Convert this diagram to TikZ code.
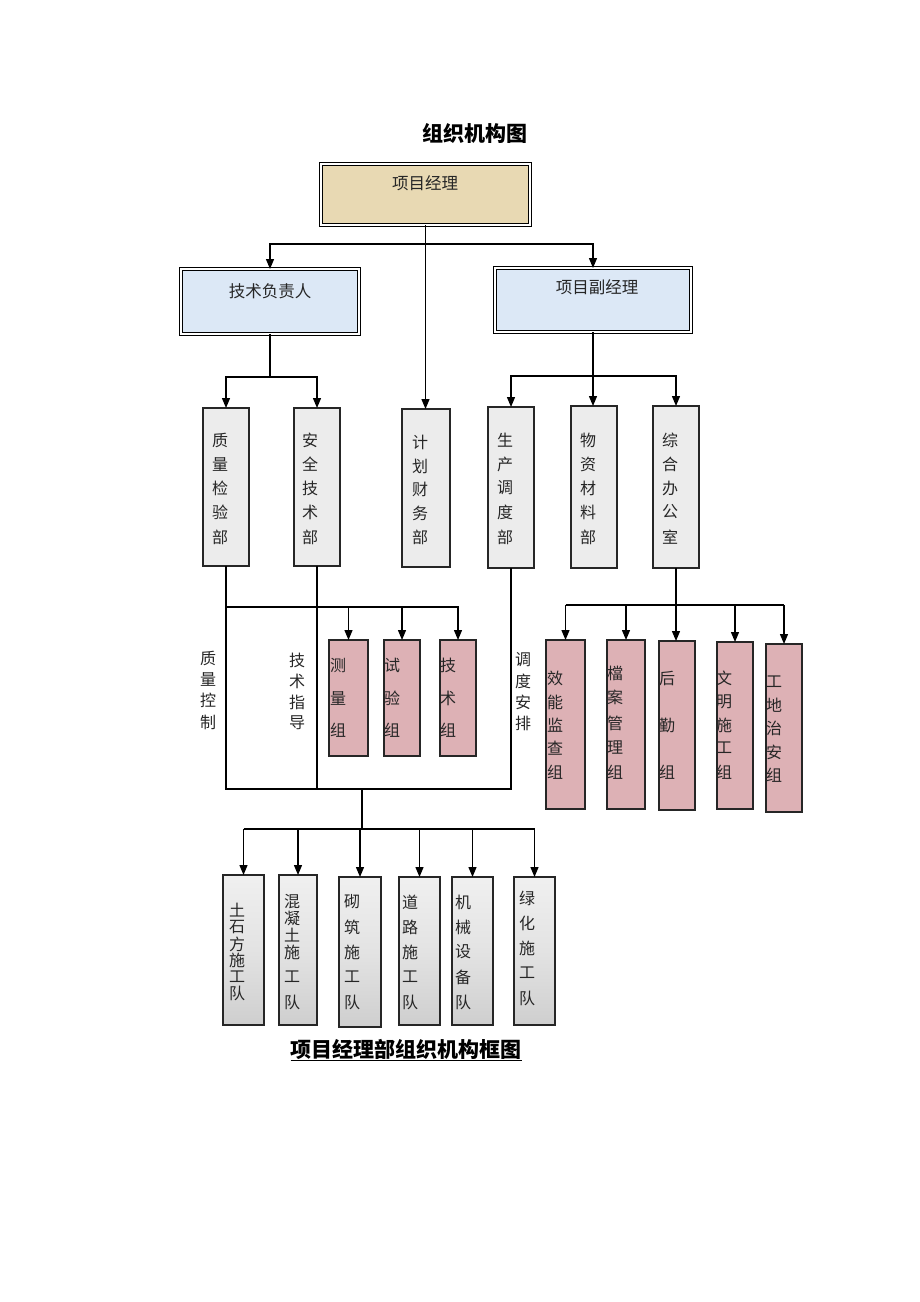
\documentclass[tikz,border=0pt]{standalone}
\usepackage{fontspec}
\setmainfont{Noto Sans CJK SC}
\usetikzlibrary{arrows.meta}
\definecolor{cTan}{HTML}{E8D9B3}
\definecolor{cBlue}{HTML}{DCE8F6}
\definecolor{cGray}{HTML}{ECECEC}
\definecolor{cPink}{HTML}{DDB1B5}
\definecolor{cTxt}{HTML}{262626}
\tikzset{
  ln/.style={line width=1.3pt, draw=black},
  arr/.style={ln, -{Triangle[length=10pt,width=8pt]}},
  bxa/.style={draw=black!85, line width=1.4pt, inner sep=0pt, outer sep=0pt, anchor=north west},
  dbx/.style={bxa, draw=black, double=white, double distance=1.3pt, line width=1.3pt},
  topbox/.style={dbx, fill=cTan},
  bluebox/.style={dbx, fill=cBlue},
  graybox/.style={bxa, fill=cGray},
  pinkbox/.style={bxa, fill=cPink},
  teambox/.style={bxa, top color=gray!12, bottom color=gray!38, middle color=gray!22},
  ch/.style={inner sep=0pt, font=\fontsize{16}{16}\selectfont, text=cTxt},
  hd/.style={inner sep=0pt, font=\fontsize{16.5}{16.5}\selectfont, text=cTxt},
  ttl/.style={inner sep=0pt, font=\bfseries\fontsize{21}{21}\selectfont, text=black},
}
\newcommand{\rb}[6]{\node[#1, minimum width=#5pt-#3pt, minimum height=#6pt-#4pt] (#2) at (#3,#4) {};}
\newcommand{\vcol}[4]{\foreach \c/\yy [count=\i] in {#4} {\node[#2] (#1-\i) at (#3,\yy) {\c};}}
\begin{document}
\begin{tikzpicture}[x=1pt,y=-1pt]
\useasboundingbox (0,0) rectangle (920,1302);
\fill[white] (0,0) rectangle (920,1302);

% titles
\node[ttl] (title) at (475,133) {组织机构图};
\node[ttl] (subtitle) at (406,1050) {\underline{项目经理部组织机构框图}};

% top level
\rb{topbox}{pm}{321}{164}{530}{225}
\node[hd] (pm-t) at (425,183) {项目经理};
\rb{bluebox}{tech}{181}{269}{359}{334}
\node[hd] (tech-t) at (270,291) {技术负责人};
\rb{bluebox}{vpm}{495}{268}{691}{332}
\node[hd] (vpm-t) at (597,287) {项目副经理};

% departments
\rb{graybox}{qc}{203}{408}{249}{566}
\rb{graybox}{sa}{294}{408}{340}{566}
\rb{graybox}{cw}{402}{409}{450}{567}
\rb{graybox}{sc}{488}{407}{534}{568}
\rb{graybox}{wz}{571}{406}{617}{568}
\rb{graybox}{zh}{653}{406}{699}{568}
\vcol{qct}{ch}{220}{质/440,量/464,检/488,验/512,部/537}
\vcol{sat}{ch}{310}{安/440,全/464,技/488,术/512,部/537}
\vcol{cwt}{ch}{420}{计/442,划/466,财/489,务/513,部/537}
\vcol{sct}{ch}{505}{生/440,产/464,调/488,度/512,部/537}
\vcol{wzt}{ch}{588}{物/440,资/464,材/488,料/512,部/537}
\vcol{zht}{ch}{670}{综/440,合/464,办/488,公/512,室/537}

% side labels
\vcol{lab1}{ch}{208}{质/658,量/679,控/700,制/722}
\vcol{lab2}{ch}{297}{技/660,术/681,指/702,导/723}
\vcol{lab3}{ch}{523}{调/660,度/681,安/702,排/723}

% groups under tech
\rb{pinkbox}{sl}{329}{640}{368}{756}
\rb{pinkbox}{sy}{384}{640}{420}{756}
\rb{pinkbox}{tj}{440}{640}{476}{756}
\vcol{slt}{ch}{338}{测/665,量/698,组/730}
\vcol{syt}{ch}{392}{试/665,验/698,组/730}
\vcol{tjt}{ch}{448}{技/665,术/698,组/730}

% groups under office
\rb{pinkbox}{xn}{546}{640}{585}{809}
\rb{pinkbox}{da}{607}{640}{645}{809}
\rb{pinkbox}{hq}{659}{641}{695}{810}
\rb{pinkbox}{wm}{717}{642}{753}{809}
\rb{pinkbox}{za}{766}{644}{802}{812}
\vcol{xnt}{ch}{555}{效/678,能/702,监/725,查/748,组/772}
\vcol{dat}{ch}{615}{檔/673,案/697,管/723,理/748,组/772}
\vcol{hqt}{ch}{667}{后/678,勤/725,组/772}
\vcol{wmt}{ch}{724}{文/678,明/702,施/725,工/748,组/772}
\vcol{zat}{ch}{774}{工/682,地/705,治/728,安/752,组/775}

% teams
\rb{teambox}{d1}{223}{875}{264}{1025}
\rb{teambox}{d2}{279}{875}{317}{1025}
\rb{teambox}{d3}{339}{877}{381}{1027}
\rb{teambox}{d4}{399}{877}{440}{1025}
\rb{teambox}{d5}{452}{877}{493}{1025}
\rb{teambox}{d6}{514}{877}{555}{1025}
\vcol{d1t}{ch}{237}{土/910,石/927,方/944,施/960,工/977,队/993}
\vcol{d2t}{ch}{292}{混/902,凝/918,土/935,施/952,工/977,队/1002}
\vcol{d3t}{ch}{352}{砌/902,筑/927,施/952,工/977,队/1002}
\vcol{d4t}{ch}{410}{道/902,路/927,施/952,工/977,队/1002}
\vcol{d5t}{ch}{463}{机/902,械/927,设/952,备/977,队/1002}
\vcol{d6t}{ch}{527}{绿/898,化/923,施/948,工/973,队/998}

% connectors: top
\coordinate (j1) at (426,244);
\draw[arr] (pm.south) -- (pm.south |- cw.north);
\draw[arr] (j1) -| (tech.north);
\draw[arr] (j1) -| (vpm.north);

\coordinate (j2) at (270,377);
\draw[ln] (tech.south) -- (j2);
\draw[arr] (j2) -| (qc.north);
\draw[arr] (j2) -| (sa.north);

\coordinate (j3) at (594,376);
\draw[arr] (vpm.south) -- (vpm.south |- wz.north);
\draw[arr] (j3) -| (sc.north);
\draw[arr] (j3) -| (zh.north);

% connectors: middle left
\coordinate (bL) at (226,789);
\coordinate (g0) at (226,607);
\draw[ln] (qc.south) |- (sc.south |- bL) -- (sc.south);
\draw[ln] (sa.south) -- (sa.south |- bL);
\draw[arr] (g0) -| (tj.north);
\draw[arr] (sl.north |- g0) -- (sl.north);
\draw[arr] (sy.north |- g0) -- (sy.north);

% connectors: right
\coordinate (g1) at (676,605);
\draw[arr] (zh.south) -- (zh.south |- hq.north);
\draw[ln] (xn.north |- g1) -- (za.north |- g1);
\draw[arr] (xn.north |- g1) -- (xn.north);
\draw[arr] (da.north |- g1) -- (da.north);
\draw[arr] (wm.north |- g1) -- (wm.north);
\draw[arr] (za.north |- g1) -- (za.north);

% connectors: bottom
\coordinate (bm) at (362,789);
\coordinate (bj) at (362,829);
\draw[ln] (bm) -- (bj);
\draw[ln] (d1.north |- bj) -- (d6.north |- bj);
\draw[arr] (d1.north |- bj) -- (d1.north);
\draw[arr] (d2.north |- bj) -- (d2.north);
\draw[arr] (d3.north |- bj) -- (d3.north);
\draw[arr] (d4.north |- bj) -- (d4.north);
\draw[arr] (d5.north |- bj) -- (d5.north);
\draw[arr] (d6.north |- bj) -- (d6.north);
\end{tikzpicture}
\end{document}
